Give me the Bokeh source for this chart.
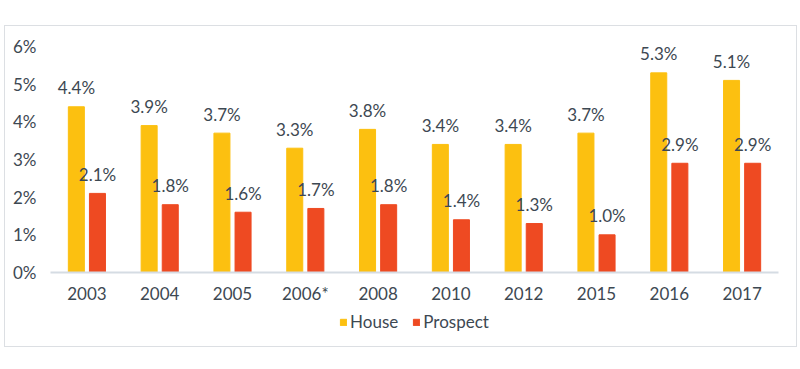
from bokeh.plotting import figure
from bokeh.models import ColumnDataSource, FactorRange, Legend, LegendItem, FixedTicker, CustomJSTickFormatter, Spacer
from bokeh.layouts import column, row
from bokeh.transform import dodge
from bokeh.core.properties import value
from bokeh.embed import file_html
from bokeh.resources import INLINE

years = ["2003", "2004", "2005", "2006*", "2008", "2010", "2012", "2015", "2016", "2017"]
house = [4.4, 3.9, 3.7, 3.3, 3.8, 3.4, 3.4, 3.7, 5.3, 5.1]
prospect = [2.1, 1.8, 1.6, 1.7, 1.8, 1.4, 1.3, 1.0, 2.9, 2.9]
y_ticks = [0, 1, 2, 3, 4, 5, 6]
series_names = ["House", "Prospect"]

FONT = "Lato"
FS = "17px"
TXT = "#3d4852"
YEL = "#FCC010"
RED = "#EE4A22"

src = ColumnDataSource(dict(
    years=years, house=house, prospect=prospect,
    house_lbl=[f"{v:.1f}%" for v in house],
    prospect_lbl=[f"{v:.1f}%" for v in prospect],
))

W = 791
p = figure(x_range=FactorRange(*years, range_padding=0), y_range=(0, 6),
           width=W, height=280, output_backend="svg", toolbar_location=None,
           min_border_left=45, min_border_right=18, min_border_top=20, min_border_bottom=32)

hb = p.vbar(x=dodge("years", -0.145, range=p.x_range), top="house", width=0.22,
            source=src, color=YEL)
pb = p.vbar(x=dodge("years", 0.145, range=p.x_range), top="prospect", width=0.22,
            source=src, color=RED)

p.text(x=dodge("years", -0.145, range=p.x_range), y="house", text="house_lbl", source=src,
       text_font=value(FONT), text_font_size=FS, text_color=TXT,
       text_align="center", text_baseline="alphabetic", y_offset=-19)
p.text(x=dodge("years", 0.145, range=p.x_range), y="prospect", text="prospect_lbl", source=src,
       text_font=value(FONT), text_font_size=FS, text_color=TXT,
       text_align="center", text_baseline="alphabetic", y_offset=-19)

p.xgrid.visible = False
p.ygrid.visible = False
p.outline_line_color = None

p.yaxis.ticker = FixedTicker(ticks=y_ticks)
p.yaxis.formatter = CustomJSTickFormatter(code="return tick + '%';")
p.yaxis.axis_line_color = None
p.yaxis.major_tick_line_color = None
p.yaxis.minor_tick_line_color = None
p.yaxis.major_label_standoff = 8
p.yaxis.major_label_text_font = FONT
p.yaxis.major_label_text_font_size = FS
p.yaxis.major_label_text_color = TXT

p.xaxis.axis_line_color = "#d5dce3"
p.xaxis.axis_line_width = 2
p.xaxis.major_tick_line_color = None
p.xaxis.minor_tick_line_color = None
p.xaxis.major_label_standoff = 4
p.xaxis.major_label_text_font = FONT
p.xaxis.major_label_text_font_size = FS
p.xaxis.major_label_text_color = TXT

# legend strip (its bars lie outside its visible y range; only the legend shows)
lf = figure(width=W, height=40, output_backend="svg", toolbar_location=None,
            x_axis_location=None, y_axis_location=None,
            x_range=FactorRange(*years), y_range=(100, 101), min_border=0)
lf.xgrid.visible = False
lf.ygrid.visible = False
lf.outline_line_color = None
r1 = lf.vbar(x="years", top="house", width=0.1, source=src, color=YEL)
r2 = lf.vbar(x="years", top="prospect", width=0.1, source=src, color=RED)
legend = Legend(items=[LegendItem(label=series_names[0], renderers=[r1]),
                       LegendItem(label=series_names[1], renderers=[r2])],
                orientation="horizontal", location="top_center",
                glyph_width=8, glyph_height=8, label_text_font=FONT,
                label_text_font_size=FS, label_text_color=TXT,
                border_line_color=None, background_fill_alpha=0,
                padding=0, spacing=14, label_standoff=3, margin=5)
lf.add_layout(legend, "center")

box = column(p, lf, spacing=0, styles={"border": "1px solid #dcdfe3"})
layout = column(Spacer(height=25, width=797),
                row(Spacer(width=4, height=320), box, spacing=0), spacing=0)
open("out.html", "w").write(file_html(layout, INLINE))
